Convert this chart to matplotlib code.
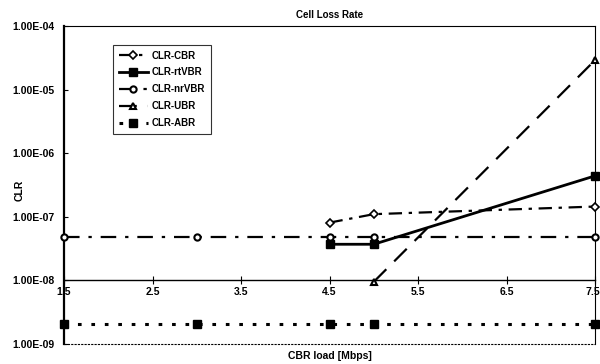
import matplotlib
matplotlib.use("Agg")
import matplotlib.pyplot as plt
from matplotlib.ticker import FixedLocator, FuncFormatter

plt.rcParams['font.family'] = ['Liberation Sans', 'DejaVu Sans']

# Data
x_cbr = [4.5, 5.0, 7.5]
clr_cbr = [8.1e-8, 1.1e-7, 1.45e-7]
x_rtvbr = [4.5, 5.0, 7.5]
clr_rtvbr = [3.7e-8, 3.7e-8, 4.4e-7]
x_nrvbr = [1.5, 3.0, 4.5, 5.0, 7.5]
clr_nrvbr = [4.8e-8, 4.8e-8, 4.8e-8, 4.8e-8, 4.8e-8]
x_ubr = [5.0, 7.5]
clr_ubr = [9.5e-9, 2.9e-5]
x_abr = [1.5, 3.0, 4.5, 5.0, 7.5]
clr_abr = [2.1e-9, 2.1e-9, 2.1e-9, 2.1e-9, 2.1e-9]

xticks = [1.5, 2.5, 3.5, 4.5, 5.5, 6.5, 7.5]
yticks = [1e-9, 1e-8, 1e-7, 1e-6, 1e-5, 1e-4]

fig = plt.figure(figsize=(6.0, 3.64), dpi=100)
ax = fig.add_axes([64/600, 1-344/364, (595-64)/600, (344-26)/364])
ax.set_yscale('log')
ax.set_xlim(1.5, 7.5)
ax.set_ylim(1e-9, 1e-4)

ax.plot(x_cbr, clr_cbr, color='black', lw=1.6, linestyle=(0, (6, 3, 1.5, 3)),
        marker='D', ms=4, mfc='white', mec='black', mew=1.2, label='CLR-CBR', clip_on=False, zorder=5)
ax.plot(x_rtvbr, clr_rtvbr, color='black', lw=2.0, linestyle='-',
        marker='s', ms=5.5, mfc='black', mec='black', label='CLR-rtVBR', clip_on=False, zorder=5)
ax.plot(x_nrvbr, clr_nrvbr, color='black', lw=1.6, linestyle=(0, (7, 4, 1.5, 4)),
        marker='o', ms=4.5, mfc='white', mec='black', mew=1.5, label='CLR-nrVBR', clip_on=False, zorder=5)
ax.plot(x_ubr, clr_ubr, color='black', lw=1.6, linestyle=(0, (8, 5)),
        marker='^', ms=5, mfc='white', mec='black', mew=1.5, label='CLR-UBR', clip_on=False, zorder=5)
ax.plot(x_abr, clr_abr, color='black', lw=2.2, linestyle=(0, (1.2, 3.2)),
        marker='s', ms=6, mfc='black', mec='black', label='CLR-ABR', clip_on=False, zorder=5)

# Axes styling (Excel-like: x axis crosses at 1e-8)
ax.spines['bottom'].set_position(('data', 1e-8))
ax.spines['bottom'].set_linewidth(1.0)
ax.spines['left'].set_linewidth(1.6)
ax.spines['top'].set_linewidth(0.8)
ax.spines['top'].set_linestyle((0, (2, 1)))
ax.spines['right'].set_linewidth(0.8)
ax.spines['right'].set_linestyle((0, (2, 1)))
ax.axhline(1e-9, color='black', lw=0.8, linestyle=(0, (2, 1)), zorder=1, clip_on=False)

ax.xaxis.set_major_locator(FixedLocator(xticks))
ax.xaxis.set_major_formatter(FuncFormatter(lambda v, p: f"{v:.1f}"))
ax.yaxis.set_major_locator(FixedLocator(yticks))
ax.yaxis.set_major_formatter(FuncFormatter(lambda v, p: f"{v:.2E}"))
ax.yaxis.set_minor_locator(FixedLocator([]))
ax.tick_params(axis='x', direction='inout', length=6, width=0.8, labelsize=7.5, pad=2)
ax.tick_params(axis='y', direction='in', length=3, width=0.8, labelsize=7.5, pad=7)
for lab in ax.get_xticklabels() + ax.get_yticklabels():
    lab.set_fontweight('bold')
xl = ax.get_xticklabels()
xl[-1].set_horizontalalignment('right')
xl[-1].set_x(7.5)
import matplotlib.transforms as mtransforms
xl[-1].set_transform(xl[-1].get_transform() + mtransforms.ScaledTranslation(5/100, 0, fig.dpi_scale_trans))

ax.set_title('Cell Loss Rate', fontsize=7, fontweight='bold', pad=6)
fig.text(20/600, 1-190/364, 'CLR', rotation=90, ha='center', va='center', fontsize=7.5, fontweight='bold')
fig.text(0.55, 0.022, 'CBR load [Mbps]', ha='center', va='center', fontsize=7.5, fontweight='bold')

leg = ax.legend(loc='upper left', bbox_to_anchor=((108-64)/531, 1-(40-26)/318),
                fontsize=7, frameon=True, fancybox=False, edgecolor='black',
                handlelength=3.0, borderpad=0.6, labelspacing=0.7, handletextpad=0.4)
leg.get_frame().set_linewidth(0.8)
for t in leg.get_texts():
    t.set_fontweight('bold')

fig.savefig('out.png', dpi=100)
